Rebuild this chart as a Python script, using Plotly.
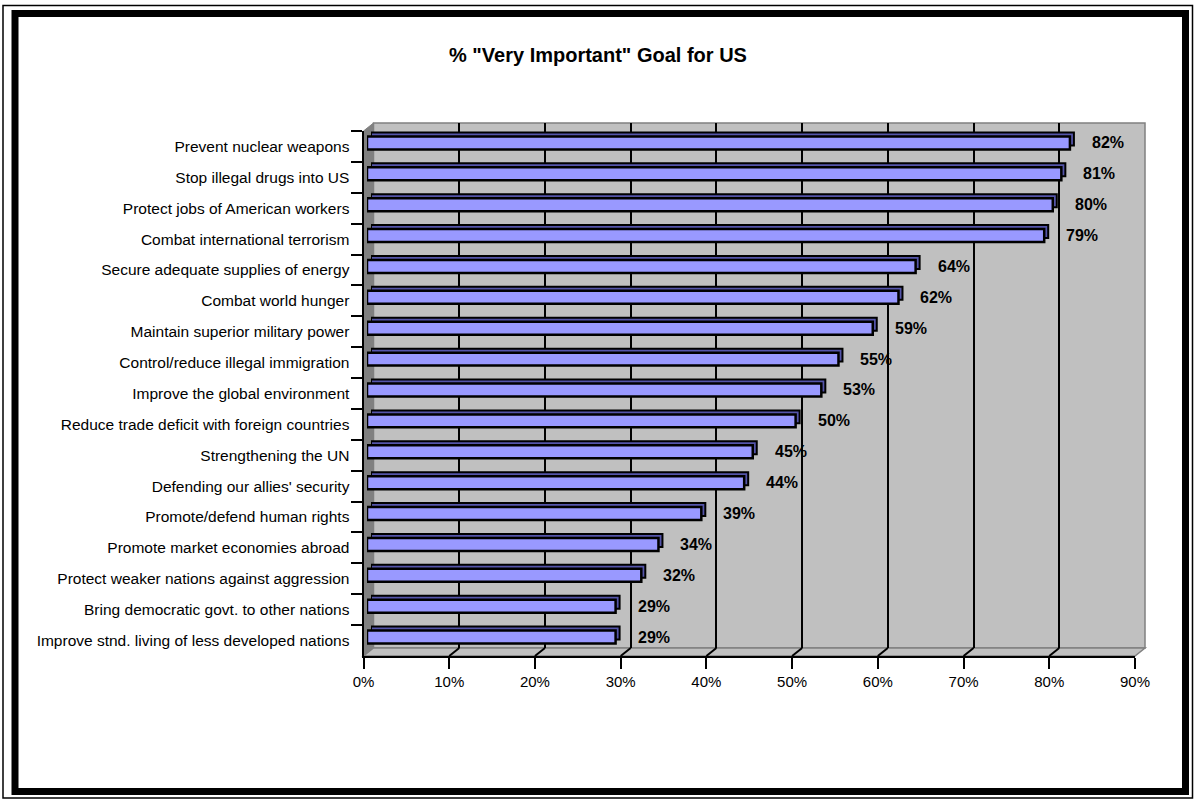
import plotly.graph_objects as go

# ---------------- data ----------------
categories = [
    "Prevent nuclear weapons",
    "Stop illegal drugs into US",
    "Protect jobs of American workers",
    "Combat international terrorism",
    "Secure adequate supplies of energy",
    "Combat world hunger",
    "Maintain superior military power",
    "Control/reduce illegal immigration",
    "Improve the global environment",
    "Reduce trade deficit with foreign countries",
    "Strengthening the UN",
    "Defending our allies' security",
    "Promote/defend human rights",
    "Promote market economies abroad",
    "Protect weaker nations against aggression",
    "Bring democratic govt. to other nations",
    "Improve stnd. living of less developed nations",
]
values = [0.82, 0.81, 0.80, 0.79, 0.64, 0.62, 0.59, 0.55, 0.53, 0.50,
          0.45, 0.44, 0.39, 0.34, 0.32, 0.29, 0.29]
x_ticks = [0.0, 0.1, 0.2, 0.3, 0.4, 0.5, 0.6, 0.7, 0.8, 0.9]
title_text = '% "Very Important" Goal for US'

# ---------------- layout helpers ----------------
W, H = 1196, 799
FONT = "Arial, Liberation Sans, sans-serif"


def px(x):
    return x / W


def py(y):
    return 1 - y / H


fig = go.Figure()

# front axes (ticks/labels), invisible trace to create subplot
fig.add_trace(go.Bar(x=[0] * len(categories), y=categories, orientation="h",
                     xaxis="x", yaxis="y", showlegend=False, hoverinfo="skip",
                     marker=dict(color="rgba(0,0,0,0)")))
# back wall grid subplot
fig.add_trace(go.Scatter(x=[0], y=[0], xaxis="x2", yaxis="y2", mode="markers",
                         marker=dict(opacity=0), showlegend=False, hoverinfo="skip"))
# 3D extrusion (back face of bars)
fig.add_trace(go.Bar(x=values, y=categories, orientation="h", xaxis="x3", yaxis="y3",
                     marker=dict(color="#5555AA", line=dict(color="black", width=2)),
                     showlegend=False, hoverinfo="skip"))
# front face of bars
fig.add_trace(go.Bar(x=values, y=categories, orientation="h", xaxis="x4", yaxis="y4",
                     marker=dict(color="#9999FF", line=dict(color="black", width=2.5)),
                     showlegend=False, hovertemplate="%{y}: %{x:.0%}<extra></extra>"))

cat_axis_common = dict(type="category", categoryorder="array", categoryarray=categories,
                       autorange="reversed", automargin=False)

fig.update_layout(
    template="none",
    width=W, height=H,
    margin=dict(l=0, r=0, t=0, b=0, pad=0, autoexpand=False),
    paper_bgcolor="white",
    plot_bgcolor="rgba(0,0,0,0)",
    bargap=0.58,
    showlegend=False,
    font=dict(family=FONT, color="black"),
    xaxis=dict(domain=[px(363.5), px(1135)], range=[0, 0.9], anchor="y", automargin=False,
               tickvals=x_ticks, tickformat=".0%", ticks="outside", ticklen=11,
               tickwidth=2, tickcolor="black", showline=True, linecolor="black",
               linewidth=2, showgrid=False, zeroline=False,
               tickfont=dict(size=15, family=FONT, color="black"), fixedrange=True),
    yaxis=dict(domain=[py(656), py(131)], anchor="x", tickson="boundaries",
               ticks="outside", ticklen=11, tickwidth=2, tickcolor="black",
               ticklabelstandoff=9,
               showline=True, linecolor="black", linewidth=2, showgrid=False,
               zeroline=False, tickfont=dict(size=15.5, family=FONT, color="black"),
               fixedrange=True, **cat_axis_common),
    xaxis2=dict(domain=[px(373.5), px(1145)], range=[0, 0.9], anchor="y2", automargin=False,
                tickvals=x_ticks[1:-1], showticklabels=False, ticks="",
                showgrid=True, gridcolor="black", gridwidth=2, zeroline=False,
                showline=False, fixedrange=True),
    yaxis2=dict(domain=[py(648), py(123)], range=[0, 1], anchor="x2", visible=False,
                automargin=False, fixedrange=True),
    xaxis3=dict(domain=[px(371), px(1142.5)], range=[0, 0.9], anchor="y3", visible=False,
                automargin=False, fixedrange=True),
    yaxis3=dict(domain=[py(648.5), py(123.5)], anchor="x3", visible=False,
                fixedrange=True, **cat_axis_common),
    xaxis4=dict(domain=[px(367), px(1138.5)], range=[0, 0.9], anchor="y4", visible=False,
                automargin=False, fixedrange=True),
    yaxis4=dict(domain=[py(652.5), py(127.5)], anchor="x4", visible=False,
                fixedrange=True, **cat_axis_common),
)

shapes = []
# back wall
shapes.append(dict(type="rect", xref="x2 domain", yref="y2 domain", x0=0, x1=1, y0=0, y1=1,
                   fillcolor="#C0C0C0", line=dict(color="#808080", width=1.5), layer="below"))
# left wall
shapes.append(dict(type="path", xref="paper", yref="paper", layer="below",
                   path=f"M {px(363.5)},{py(656)} L {px(363.5)},{py(131)} L {px(373.5)},{py(123)} "
                        f"L {px(373.5)},{py(648)} Z",
                   fillcolor="#808080", line=dict(color="#808080", width=1)))
# floor
shapes.append(dict(type="path", xref="paper", yref="paper", layer="below",
                   path=f"M {px(363.5)},{py(656)} L {px(1135)},{py(656)} L {px(1145)},{py(648)} "
                        f"L {px(373.5)},{py(648)} Z",
                   fillcolor="#C0C0C0", line=dict(color="#808080", width=1.5)))
# floor grid lines from front ticks to back wall
for t in x_ticks[1:-1]:
    shapes.append(dict(type="line", xref="x", yref="paper", xsizemode="pixel", xanchor=t,
                       x0=0, x1=10, y0=py(656), y1=py(648),
                       line=dict(color="black", width=2)))
# outer frames
shapes.append(dict(type="rect", xref="paper", yref="paper",
                   x0=px(3), x1=px(1192.5), y0=py(798), y1=py(5.5),
                   line=dict(color="black", width=1.5), fillcolor="rgba(0,0,0,0)"))
shapes.append(dict(type="rect", xref="paper", yref="paper",
                   x0=px(15), x1=px(1185.5), y0=py(791.5), y1=py(13.5),
                   line=dict(color="black", width=7), fillcolor="rgba(0,0,0,0)"))
fig.update_layout(shapes=shapes)

annotations = [dict(text=f"<b>{title_text}</b>", xref="paper", yref="paper",
                    x=px(598), y=py(55), xanchor="center", yanchor="middle", showarrow=False,
                    font=dict(size=20, family=FONT, color="black"))]
for c, v in zip(categories, values):
    annotations.append(dict(text=f"<b>{v:.0%}</b>", xref="x4", yref="y4", x=v, y=c,
                            xanchor="left", yanchor="middle", xshift=20, showarrow=False,
                            font=dict(size=16, family=FONT, color="black")))
fig.update_layout(annotations=annotations)

fig.write_html("out.html")
